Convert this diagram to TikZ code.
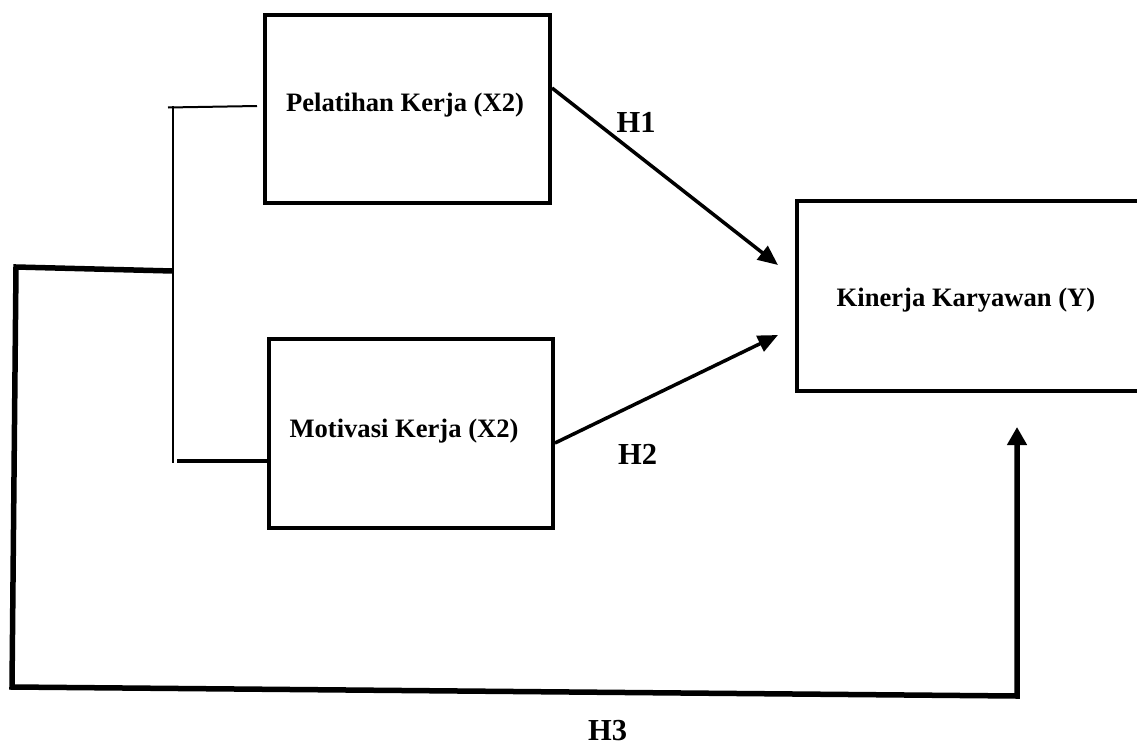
\documentclass[tikz,border=0pt]{standalone}
\usepackage{fontspec}
\setmainfont{Liberation Serif}
\usetikzlibrary{arrows.meta,calc}
\tikzset{
  varbox/.style={draw, line width=4pt, inner sep=0pt},
  boxtext/.style={font=\bfseries\fontsize{26.6}{31}\selectfont, inner sep=0pt, anchor=base},
  hyparrow/.style={line width=3.5pt, -{Triangle[length=20pt,width=17pt]}},
  hlabel/.style={font=\bfseries\fontsize{30.5}{35}\selectfont, inner sep=0pt},
  thin link/.style={line width=2pt},
  thick link/.style={line width=3.2pt},
  loop/.style={line width=5.5pt, line join=miter, -{Triangle[length=18pt,width=19pt]}}
}
\begin{document}
\begin{tikzpicture}[x=1pt,y=-1pt]
\useasboundingbox (0,0) rectangle (1137,747);
\clip (0,0) rectangle (1137,747);
\fill[white] (0,0) rectangle (1137,747);
% boxes
\node[varbox, minimum width=285pt, minimum height=188pt] (P) at (407.5,109) {};
\node[varbox, minimum width=284pt, minimum height=189pt] (M) at (411,433.5) {};
\node[varbox, minimum width=360pt, minimum height=190pt, anchor=west] (K) at (795,296) {};
\node[boxtext] (Pt) at (405,111.3) {Pelatihan Kerja (X2)};
\node[boxtext] (Mt) at (404,437.3) {Motivasi Kerja (X2)};
\node[boxtext] (Kt) at (966,306.3) {Kinerja Karyawan (Y)};
% bracket
\coordinate (bt) at (173,106);
\coordinate (bb) at (173,463);
\coordinate (bm) at (173,271);
\coordinate (pend) at (257,106);
\coordinate (mstart) at (177,461);
\draw[thin link] (bt) -- (bb);
\draw[thin link] (168,107.5) -- (pend);
\draw[thick link] (mstart) -- (M.west |- mstart);
% hypothesis arrows
\coordinate (t1) at (778,265);
\coordinate (t2) at (778,335);
\draw[hyparrow] (P.east |- 0,88) -- (t1);
\draw[hyparrow] (M.east |- 0,443) -- (t2);
\node[hlabel] (H1) at (636,122.5) {H1};
\node[hlabel] (H2) at (637.5,454) {H2};
% H3 loop
\coordinate (l1) at (16,267);
\coordinate (l2) at (12,687);
\coordinate (l3) at (1017,696);
\coordinate (t3) at (1017,427);
\draw[loop] (bm) -- (l1) -- (l2) -- (l3) -- (t3);
\node[hlabel] (H3) at (607.5,731) {H3};
\end{tikzpicture}
\end{document}
